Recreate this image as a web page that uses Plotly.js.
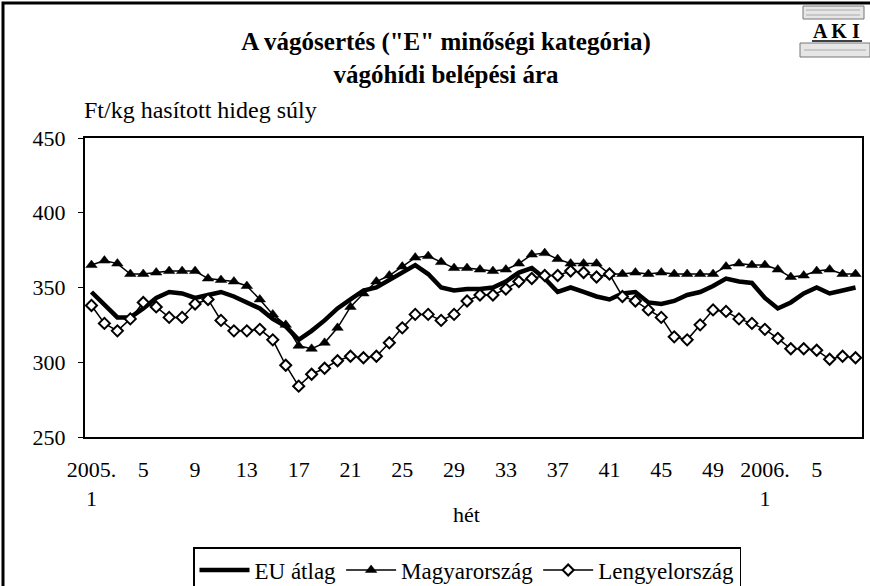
<!DOCTYPE html>
<html>
<head>
<meta charset="utf-8">
<script src="https://cdn.plot.ly/plotly-3.0.1.min.js"></script>
<style>
  html, body { margin: 0; padding: 0; background: #fff; }
  #chart { width: 870px; height: 586px; }
</style>
</head>
<body>
<div id="chart"></div>
<script>
// Week categories: 2005 weeks 1-52, 2006 weeks 1-8
const weeks = [
  "2005.1","2005.2","2005.3","2005.4","2005.5","2005.6","2005.7","2005.8","2005.9","2005.10",
  "2005.11","2005.12","2005.13","2005.14","2005.15","2005.16","2005.17","2005.18","2005.19","2005.20",
  "2005.21","2005.22","2005.23","2005.24","2005.25","2005.26","2005.27","2005.28","2005.29","2005.30",
  "2005.31","2005.32","2005.33","2005.34","2005.35","2005.36","2005.37","2005.38","2005.39","2005.40",
  "2005.41","2005.42","2005.43","2005.44","2005.45","2005.46","2005.47","2005.48","2005.49","2005.50",
  "2005.51","2005.52","2006.1","2006.2","2006.3","2006.4","2006.5","2006.6","2006.7","2006.8"
];

const tickCats = ["2005.1","2005.5","2005.9","2005.13","2005.17","2005.21","2005.25","2005.29",
  "2005.33","2005.37","2005.41","2005.45","2005.49","2006.1","2006.5"];
const tickLabels = ["2005.<br>1","5","9","13","17","21","25","29","33","37","41","45","49","2006.<br>1","5"];

// Ft/kg values
const euAtlag = [
  347,339,330,330,336,343,347,346,343,345,
  347,344,340,336,329,324,315,321,328,336,
  342,348,350,355,360,365,359,350,348,349,
  349,350,354,360,363,356,347,350,347,344,
  342,346,347,340,339,341,345,347,351,356,
  354,353,343,336,340,346,350,346,348,350
];
const magyarorszag = [
  365,368,366,359,359,360,361,361,361,356,
  355,354,351,342,332,325,311,309,313,323,
  337,346,354,358,364,370,371,367,363,363,
  362,361,362,366,372,373,369,366,366,366,
  359,359,360,359,360,359,359,359,359,364,
  366,365,365,362,357,358,361,362,359,359
];
const lengyelorszag = [
  338,326,321,329,340,337,330,330,339,342,
  328,321,321,322,315,298,284,292,296,301,
  304,303,304,313,323,332,332,328,332,341,
  345,345,349,354,356,358,358,361,360,357,
  359,344,341,335,330,317,315,325,335,334,
  329,326,322,316,309,309,308,302,304,303
];

const serif = "Liberation Serif, Times New Roman, serif";

const traces = [
  {
    x: weeks, y: euAtlag, name: "EU átlag", type: "scatter", mode: "lines",
    line: { color: "#000", width: 4.5 }
  },
  {
    x: weeks, y: magyarorszag, name: "Magyarország", type: "scatter", mode: "lines+markers",
    line: { color: "#000", width: 1.5 },
    marker: { symbol: "triangle-up", size: 10, color: "#000", line: { color: "#000", width: 0.5 } }
  },
  {
    x: weeks, y: lengyelorszag, name: "Lengyelország", type: "scatter", mode: "lines+markers",
    line: { color: "#000", width: 1.5 },
    marker: { symbol: "diamond", size: 8.5, color: "#fff", line: { color: "#000", width: 2 } }
  }
];

// paper conversion helpers for decorative shapes outside plot area
const L = 85, R = 8, T = 138, B = 149, W = 870, H = 586;
const pw = W - L - R, ph = H - T - B;
const px = v => (v - L) / pw;
const py = v => (H - B - v) / ph;

const layout = {
  width: W, height: H,
  margin: { l: L, r: R, t: T, b: B, pad: 0, autoexpand: false },
  paper_bgcolor: "#fff", plot_bgcolor: "#fff",
  font: { family: serif, color: "#000", size: 21 },
  showlegend: true,
  title: {
    text: "<b>A vágósertés (\"E\" minőségi kategória)<br>vágóhídi belépési ára</b>",
    font: { family: serif, size: 25, color: "#000" },
    x: 446 / W, xanchor: "center", xref: "container",
    y: 1 - 50 / H, yanchor: "top", yref: "container", automargin: false
  },
  xaxis: {
    type: "category", categoryorder: "array", categoryarray: weeks,
    range: [-0.5, weeks.length - 0.5], automargin: false,
    tickmode: "array", tickvals: tickCats, ticktext: tickLabels,
    ticks: "", ticklen: 0, ticklabelstandoff: 12,
    tickfont: { family: serif, size: 22, color: "#000" },
    showline: true, linecolor: "#000", linewidth: 2, mirror: true,
    showgrid: false, zeroline: false, fixedrange: true
  },
  xaxis2: {
    overlaying: "x", anchor: "y", side: "bottom", automargin: false,
    range: [0, weeks.length], tickmode: "linear", tick0: 0, dtick: 1,
    ticks: "outside", ticklen: 5, tickwidth: 1, tickcolor: "#000",
    showticklabels: false, showgrid: false, zeroline: false, showline: false
  },
  yaxis: {
    range: [250, 450], tickmode: "linear", tick0: 250, dtick: 50, automargin: false,
    ticks: "outside", ticklen: 5, tickwidth: 1, tickcolor: "#000", ticklabelstandoff: 8,
    tickfont: { family: serif, size: 22, color: "#000" },
    showline: true, linecolor: "#000", linewidth: 2, mirror: true,
    showgrid: false, zeroline: false
  },
  legend: {
    orientation: "h", xref: "container", yref: "container",
    x: 193 / W, xanchor: "left", y: 1 - 547 / H, yanchor: "top",
    bordercolor: "#000", borderwidth: 1.5, bgcolor: "#fff",
    font: { family: serif, size: 23, color: "#000" },
    itemwidth: 50, tracegroupgap: 0
  },
  annotations: [
    {
      text: "Ft/kg hasított hideg súly", xref: "paper", yref: "paper",
      x: px(82), xanchor: "left", y: py(110), yanchor: "middle",
      showarrow: false, font: { family: serif, size: 24, color: "#000" }
    },
    {
      text: "hét", xref: "paper", yref: "paper",
      x: px(466), xanchor: "center", y: py(514), yanchor: "middle",
      showarrow: false, font: { family: serif, size: 22, color: "#000" }
    },
    {
      text: "<b>A K I</b>", xref: "paper", yref: "paper",
      x: px(836), xanchor: "center", y: py(31), yanchor: "middle",
      showarrow: false, font: { family: serif, size: 20, color: "#000" }
    }
  ],
  shapes: [
    // outer chart border
    { type: "rect", xref: "paper", yref: "paper", x0: px(3), x1: px(900), y0: py(620), y1: py(3),
      line: { color: "#000", width: 3 }, fillcolor: "rgba(0,0,0,0)", layer: "below" },
    // logo: upper book
    { type: "rect", xref: "paper", yref: "paper", x0: px(803), x1: px(864), y0: py(19), y1: py(6),
      line: { color: "#777", width: 1 }, fillcolor: "#e6e6e6" },
    { type: "line", xref: "paper", yref: "paper", x0: px(806), x1: px(860), y0: py(10), y1: py(10),
      line: { color: "#aaa", width: 1 } },
    { type: "line", xref: "paper", yref: "paper", x0: px(806), x1: px(860), y0: py(15), y1: py(15),
      line: { color: "#aaa", width: 1 } },
    // logo underline
    { type: "line", xref: "paper", yref: "paper", x0: px(812), x1: px(862), y0: py(41), y1: py(41),
      line: { color: "#000", width: 1.5 } },
    // logo: lower book
    { type: "rect", xref: "paper", yref: "paper", x0: px(800), x1: px(870), y0: py(57), y1: py(43),
      line: { color: "#777", width: 1 }, fillcolor: "#e6e6e6" },
    { type: "line", xref: "paper", yref: "paper", x0: px(804), x1: px(866), y0: py(50), y1: py(50),
      line: { color: "#aaa", width: 1 } }
  ]
};

Plotly.newPlot("chart", traces, layout, { displayModeBar: false, staticPlot: true });
</script>
</body>
</html>
